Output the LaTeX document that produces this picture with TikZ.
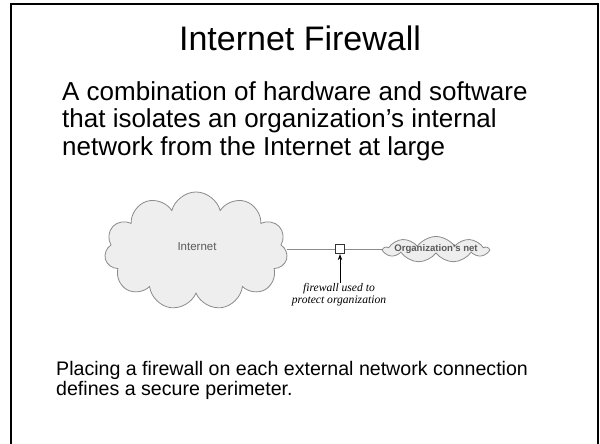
\documentclass[tikz,border=0pt]{standalone}
\usepackage{fontspec}
\setmainfont{Liberation Sans}
\newfontfamily\serifit{Liberation Serif}
\usetikzlibrary{shapes.symbols,arrows.meta}
\definecolor{cloudfill}{HTML}{EEEEEE}
\definecolor{cloudline}{HTML}{8A8A8A}
\definecolor{labelgray}{HTML}{5A5A5A}
\begin{document}
\begin{tikzpicture}[x=1pt,y=-1pt,
  frameline/.style={line width=2pt,black},
  cloudbox/.style={cloud,draw=cloudline,fill=cloudfill,line width=0.8pt,inner sep=0pt},
  wire/.style={draw=cloudline,line width=0.9pt},
  fwbox/.style={draw=black!80,fill=white,line width=0.8pt,minimum size=9.5pt,inner sep=0pt},
  bodytext/.style={anchor=base west,align=left,inner sep=0pt}]
\useasboundingbox (0,0) rectangle (600,444);
\draw[frameline] (11,450) -- (11,4) -- (598,4) -- (598,450);
\node[font=\fontsize{34}{40}\selectfont,anchor=base,inner sep=0pt] (title) at (300,51) {Internet Firewall};
% anchor base of a multi-line node is the baseline of its last line
\node[bodytext,font=\fontsize{26}{27.5}\selectfont] (body) at (62,155)
  {A combination of hardware and software\\that isolates an organization’s internal\\network from the Internet at large};
\node[cloudbox,cloud puffs=11,aspect=1.55,minimum width=183pt,minimum height=118pt] (inet) at (196,251) {};
\node[font=\fontsize{11.5}{13}\selectfont,text=labelgray] (inetlabel) at (197,247) {Internet};
\node[fwbox] (fw) at (340,249) {};
\node[cloudbox,cloud puffs=9,cloud puff arc=110,aspect=4.2,minimum width=104pt,minimum height=26pt] (org) at (436,249.5) {};
\node[font=\fontsize{9.6}{11}\selectfont\bfseries,text=labelgray] (orglabel) at (436,249) {Organization’s net};
\draw[wire] (inet.east |- fw.west) -- (fw.west);
\draw[wire] (fw.east) -- (org.west |- fw.east);
\node[font=\serifit\itshape\fontsize{11.6}{12.5}\selectfont,align=center,anchor=north,inner sep=0pt] (fwlabel) at (339,283)
  {firewall used to\\protect organization};
\draw[-{Stealth[length=6pt,width=4.5pt]},line width=0.8pt] (fwlabel.north -| fw.south) -- (fw.south);
\node[bodytext,font=\fontsize{19.6}{19.8}\selectfont] (note) at (56,395.5)
  {Placing a firewall on each external network connection\\defines a secure perimeter.};
\end{tikzpicture}
\end{document}
